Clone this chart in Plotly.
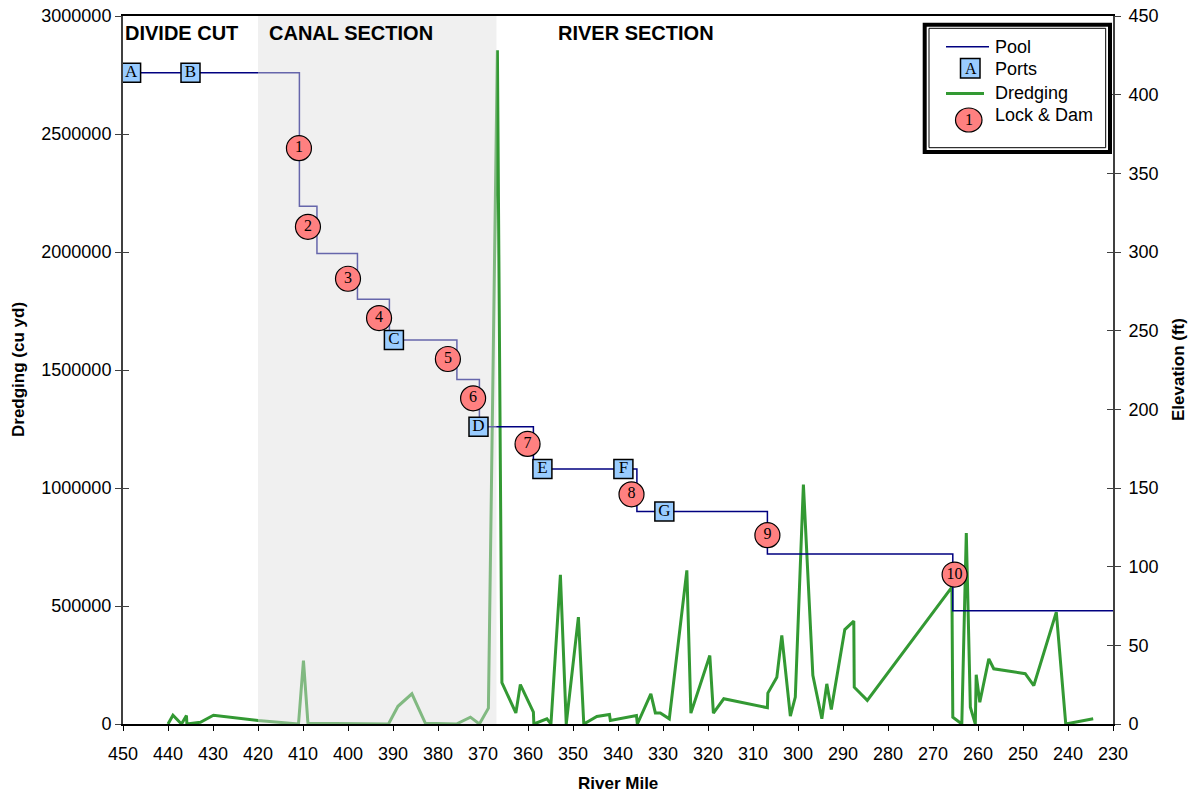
import plotly.graph_objects as go

# ---------------- data ----------------
pool_mile = [450, 410.8, 406.9, 397.9, 390.8, 375.8, 370.8, 358.8, 335.8, 306.8, 265.6, 230]
pool_elev = [414, 329, 299, 270, 244, 219, 189, 162, 135, 108, 72, 72]

port_names = ["A", "B", "C", "D", "E", "F", "G"]
port_mile = [448.2, 435.0, 389.8, 371.0, 356.8, 338.8, 329.7]
port_elev = [414, 414, 244, 189, 162, 162, 135]

lock_names = ["1", "2", "3", "4", "5", "6", "7", "8", "9", "10"]
lock_mile = [410.9, 408.9, 400.0, 393.1, 377.8, 372.2, 360.1, 337.0, 306.8, 265.2]
lock_elev = [366, 316, 283, 258, 232, 207, 178, 146, 120, 95]

dredge_mile = [440, 438.9, 437.0, 435.9, 435.8, 432.8, 429.9, 420.0, 411.0, 409.9,
               408.9, 391.0, 388.9, 385.8, 382.8, 375.9, 372.8, 370.8, 368.8, 366.8,
               365.8, 362.7, 361.7, 358.8, 358.7, 355.8, 354.9, 352.8, 351.5, 348.8,
               347.6, 344.7, 341.9, 341.7, 335.9, 335.7, 332.7, 331.7, 330.6, 328.6,
               324.7, 323.8, 319.6, 318.8, 316.5, 306.8, 306.7, 304.7, 303.6, 301.7,
               300.6, 298.8, 296.7, 294.7, 293.6, 292.6, 289.6, 287.6, 287.5, 284.6,
               265.8, 265.6, 263.6, 262.6, 261.7, 260.6, 260.4, 259.6, 257.6, 256.5,
               249.5, 247.6, 242.6, 240.5, 234.4]
dredge_vol = [0, 37000, 0, 36000, 0, 7600, 37000, 15000, 0, 269000,
              3000, 0, 75000, 128000, 3000, 0, 29000, 0, 67000, 2855000,
              175000, 47000, 167000, 50000, 0, 22000, 0, 632000, 0, 453000,
              0, 32000, 40000, 15000, 36000, 0, 128000, 47000, 47000, 22000,
              651000, 46000, 290000, 46000, 107000, 69000, 131000, 198000, 375000, 33000,
              114000, 1015000, 206000, 22000, 170000, 61000, 400000, 436000, 156000, 100000,
              580000, 29000, 0, 809000, 71000, 0, 209000, 92000, 276000, 234000,
              213000, 163000, 474000, 0, 22000]

canal_start, canal_end = 420, 367
x_ticks = list(range(450, 229, -10))
left_ticks = list(range(0, 3000001, 500000))
right_ticks = list(range(0, 451, 50))

# ---------------- layout constants ----------------
W, H = 1193, 793
ML, MR, MT, MB = 123, 80, 16, 69
PW, PH = W - ML - MR, H - MT - MB

def px(xp):
    return (xp - ML) / PW

def py(yp):
    return (H - MB - yp) / PH

NAVY = "#000080"
GREEN = "#339933"
PORT_FILL = "#99CCFF"
LOCK_FILL = "#FF8080"
AXC = "#404040"
SANS = "Liberation Sans, Arial, sans-serif"
SERIF = "Liberation Serif, Times New Roman, serif"

fig = go.Figure()

# dredging (left axis)
fig.add_trace(go.Scatter(x=dredge_mile, y=dredge_vol, mode="lines",
                         line=dict(color=GREEN, width=3), name="Dredging",
                         yaxis="y", showlegend=False))
# pool (right axis)
fig.add_trace(go.Scatter(x=pool_mile, y=pool_elev, mode="lines", line_shape="hv",
                         line=dict(color=NAVY, width=1.5), name="Pool",
                         yaxis="y2", showlegend=False))
# canal section shading (drawn over lines, under markers)
fig.add_trace(go.Scatter(x=[canal_start, canal_end, canal_end, canal_start, canal_start],
                         y=[0, 0, 450, 450, 0], mode="lines", fill="toself",
                         fillcolor="rgba(222,222,222,0.46)", line=dict(width=0),
                         yaxis="y2", showlegend=False, hoverinfo="skip"))
# ports
fig.add_trace(go.Scatter(x=port_mile, y=port_elev, mode="markers+text", text=port_names,
                         textposition="middle center",
                         textfont=dict(family=SERIF, size=17, color="black"),
                         marker=dict(symbol="square", size=19, color=PORT_FILL,
                                     line=dict(color="black", width=1.5)),
                         name="Ports", yaxis="y2", showlegend=False))
# locks
fig.add_trace(go.Scatter(x=lock_mile, y=lock_elev, mode="markers+text", text=lock_names,
                         textposition="middle center",
                         textfont=dict(family=SERIF, size=16, color="black"),
                         marker=dict(symbol="circle", size=25, color=LOCK_FILL,
                                     line=dict(color="black", width=1.2)),
                         name="Lock & Dam", yaxis="y2", showlegend=False))

# ---------------- manual legend ----------------
shapes = []
shapes.append(dict(type="rect", xref="paper", yref="paper",
                   x0=px(924.7), x1=px(1110), y0=py(152), y1=py(24.7),
                   line=dict(color="black", width=4), fillcolor="white", layer="above"))
shapes.append(dict(type="rect", xref="paper", yref="paper",
                   x0=px(929), x1=px(1105.7), y0=py(147.7), y1=py(28.3),
                   line=dict(color="black", width=1), layer="above"))
shapes.append(dict(type="line", xref="paper", yref="paper",
                   x0=px(946), x1=px(989), y0=py(46.7), y1=py(46.7),
                   line=dict(color=NAVY, width=1.5), layer="above"))
shapes.append(dict(type="rect", xref="paper", yref="paper",
                   x0=px(960.5), x1=px(980), y0=py(78), y1=py(58.5),
                   line=dict(color="black", width=1.5), fillcolor=PORT_FILL, layer="above"))
shapes.append(dict(type="line", xref="paper", yref="paper",
                   x0=px(946), x1=px(984), y0=py(93.5), y1=py(93.5),
                   line=dict(color=GREEN, width=3), layer="above"))
shapes.append(dict(type="circle", xref="paper", yref="paper",
                   x0=px(955.5), x1=px(982), y0=py(132), y1=py(108),
                   line=dict(color="black", width=1.2), fillcolor=LOCK_FILL, layer="above"))

annotations = []
for label, yy in [("Pool", 46.7), ("Ports", 69.5), ("Dredging", 92.5), ("Lock & Dam", 115)]:
    annotations.append(dict(text=label, xref="paper", yref="paper", x=px(993), y=py(yy),
                            xanchor="left", yanchor="middle", showarrow=False,
                            font=dict(family=SANS, size=18, color="black")))
annotations.append(dict(text="A", xref="paper", yref="paper", x=px(971), y=py(68),
                        xanchor="center", yanchor="middle", showarrow=False,
                        font=dict(family=SERIF, size=16, color="black")))
annotations.append(dict(text="1", xref="paper", yref="paper", x=px(969), y=py(120),
                        xanchor="center", yanchor="middle", showarrow=False,
                        font=dict(family=SERIF, size=16, color="black")))

# section labels
for label, xm in [("DIVIDE CUT", 450), ("CANAL SECTION", 417.9), ("RIVER SECTION", 353.7)]:
    annotations.append(dict(text="<b>%s</b>" % label, xref="x", yref="paper", x=xm, y=py(33),
                            xanchor="left", yanchor="middle", showarrow=False,
                            font=dict(family=SANS, size=20, color="black")))

# axis titles
annotations.append(dict(text="<b>Dredging (cu yd)</b>", xref="paper", yref="paper",
                        x=px(18), y=py(370), textangle=-90, showarrow=False,
                        xanchor="center", yanchor="middle",
                        font=dict(family=SANS, size=17, color="black")))
annotations.append(dict(text="<b>Elevation (ft)</b>", xref="paper", yref="paper",
                        x=px(1178), y=py(370), textangle=-90, showarrow=False,
                        xanchor="center", yanchor="middle",
                        font=dict(family=SANS, size=17, color="black")))
annotations.append(dict(text="<b>River Mile</b>", xref="paper", yref="paper",
                        x=0.5, y=py(783), showarrow=False,
                        xanchor="center", yanchor="middle",
                        font=dict(family=SANS, size=17, color="black")))

fig.update_layout(
    width=W, height=H, autosize=False,
    margin=dict(l=ML, r=MR, t=MT, b=MB, pad=0, autoexpand=False),
    paper_bgcolor="white", plot_bgcolor="white",
    showlegend=False,
    font=dict(family=SANS, size=18, color="black"),
    xaxis=dict(range=[450, 230], tickvals=x_ticks, ticktext=[str(v) for v in x_ticks],
               showgrid=False, zeroline=False, showline=True, linecolor="black",
               linewidth=1.5, mirror=True, ticks="outside", ticklen=5, tickcolor="black",
               ticklabelstandoff=8, tickfont=dict(family=SANS, size=18), automargin=False),
    yaxis=dict(range=[0, 3000000], tickvals=left_ticks,
               ticktext=[str(v) for v in left_ticks],
               showgrid=False, zeroline=False, showline=True, linecolor=AXC,
               linewidth=2, ticks="outside", ticklen=6, tickcolor=AXC,
               tickfont=dict(family=SANS, size=18), automargin=False),
    yaxis2=dict(range=[0, 450], tickvals=right_ticks, overlaying="y",
                side="right", anchor="x",
                showgrid=False, zeroline=False, showline=True, linecolor=AXC,
                linewidth=2, ticks="outside", ticklen=6, tickcolor=AXC,
                ticklabelstandoff=4, tickfont=dict(family=SANS, size=18), automargin=False),
    # inner halves of the crossing tick marks
    yaxis3=dict(range=[0, 3000000], tickvals=left_ticks, overlaying="y", side="left",
                anchor="x", showgrid=False, zeroline=False, showline=False,
                ticks="inside", ticklen=6, tickcolor=AXC, showticklabels=False,
                automargin=False),
    yaxis4=dict(range=[0, 450], tickvals=right_ticks, overlaying="y", side="right",
                anchor="x", showgrid=False, zeroline=False, showline=False,
                ticks="inside", ticklen=6, tickcolor=AXC, showticklabels=False,
                automargin=False),
    shapes=shapes,
    annotations=annotations,
)

# invisible traces so the tick-only axes render
fig.add_trace(go.Scatter(x=[450], y=[0], yaxis="y3", mode="markers",
                         marker=dict(opacity=0), showlegend=False, hoverinfo="skip"))
fig.add_trace(go.Scatter(x=[450], y=[0], yaxis="y4", mode="markers",
                         marker=dict(opacity=0), showlegend=False, hoverinfo="skip"))

fig.write_html("out.html", config={"displayModeBar": False},
               post_script="document.body.style.margin='0';document.body.style.padding='0';")
